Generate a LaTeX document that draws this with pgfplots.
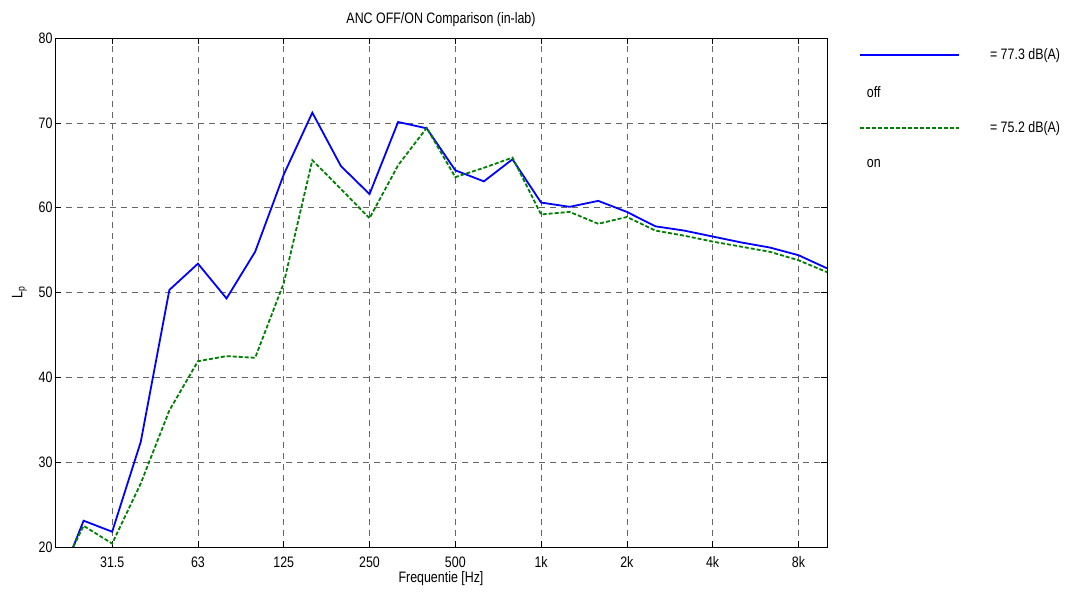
\documentclass[border=0pt]{standalone}
\usepackage{fontspec}
\setmainfont{Liberation Sans}[FakeStretch=0.82]
\usepackage{pgfplots}
\pgfplotsset{compat=1.18}
\definecolor{mblue}{RGB}{0,0,255}
\definecolor{mgreen}{RGB}{0,128,0}

\pgfplotstableread{
idx off on
0 14.6 15.6
1 23.1 22.5
2 21.8 20.4
3 32.4 27.5
4 50.3 36.1
5 53.4 41.9
6 49.3 42.5
7 54.8 42.3
8 63.9 51.1
9 71.2 65.6
10 64.9 62.2
11 61.6 58.75
12 70.1 65.0
13 69.35 69.4
14 64.4 63.6
15 63.1 64.7
16 65.7 65.9
17 60.6 59.2
18 60.1 59.5
19 60.8 58.1
20 59.5 58.9
21 57.8 57.3
22 57.3 56.7
23 56.6 56.0
24 55.9 55.4
25 55.3 54.8
26 54.4 53.8
27 52.85 52.4
}\anctable

\newcommand{\fs}{\fontsize{15.2}{17}\selectfont}

\begin{document}
\begin{tikzpicture}
\begin{axis}[
  scale only axis, width=772bp, height=509bp,
  xmin=0, xmax=27, ymin=20, ymax=80,
  xtick={2,5,8,11,14,17,20,23,26},
  xticklabels={31.5,63,125,250,500,1k,2k,4k,8k},
  ytick={20,30,...,80},
  tick align=inside, major tick length=6bp,
  xtick pos=both, ytick pos=both,
  grid=major,
  major grid style={black!60, line width=0.6bp, dash pattern=on 6bp off 5bp},
  axis line style={line width=0.9bp},
  tick style={black, line width=0.6bp},
  ticklabel style={font=\fs},
  xticklabel style={yshift=-6.5bp},
  yticklabel style={xshift=1bp},
  /pgf/number format/assume math mode=true,
  title={ANC OFF/ON Comparison (in-lab)},
  title style={font=\fs, yshift=2bp},
  xlabel={Frequentie [Hz]},
  xlabel style={font=\fs, yshift=3bp},
  ylabel={L\textsubscript{p}},
  ylabel style={font=\fs, yshift=5bp},
  legend cell align=left,
  legend style={draw=none, fill=none, inner sep=0pt,
    at={(axis description cs:1.0415,0.98)}, anchor=north west,
    row sep=61bp, font=\fs,
    nodes={inner sep=0pt}},
]
\addplot[mblue, line width=1.8bp,
  legend image code/.code={\draw[mblue, line width=1.8bp] (0bp,0bp) -- (99bp,0bp); \path (129bp,0bp);}]
  table[x=idx, y=off] {\anctable};
\addlegendentry{= 77.3 dB(A)}
\addplot[mgreen, line width=1.8bp, dash pattern=on 4bp off 2bp,
  legend image code/.code={\draw[mgreen, line width=1.8bp, dash pattern=on 4bp off 2bp] (0bp,0bp) -- (99bp,0bp); \path (129bp,0bp);}]
  table[x=idx, y=on] {\anctable};
\addlegendentry{= 75.2 dB(A)}
\end{axis}
\node[anchor=west, inner sep=0pt, font=\fs] at ([xshift=39.7bp,yshift=-53.7bp]current axis.north east) {off};
\node[anchor=west, inner sep=0pt, font=\fs] at ([xshift=39.7bp,yshift=-125.3bp]current axis.north east) {on};
\path ([xshift=-55bp,yshift=-49bp]current axis.south west) rectangle ([xshift=250bp,yshift=38bp]current axis.north east);
\end{tikzpicture}
\end{document}
